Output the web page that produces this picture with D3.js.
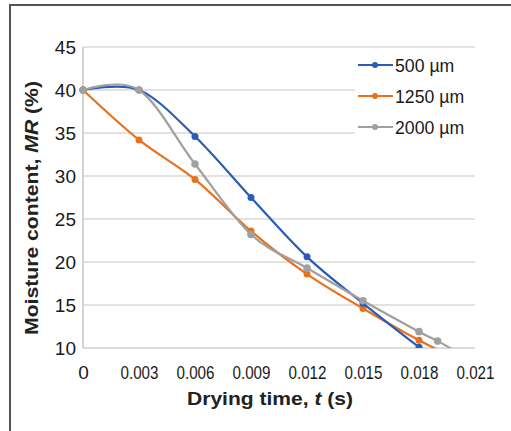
<!DOCTYPE html>
<html><head><meta charset="utf-8">
<script src="https://cdn.jsdelivr.net/npm/d3@7"></script>
<style>
html,body{margin:0;padding:0;background:#fff;}
svg{display:block;}
</style></head>
<body>
<svg id="c" width="511" height="431"></svg>
<script>
const xTicks = [0, 0.003, 0.006, 0.009, 0.012, 0.015, 0.018, 0.021];
const xTickLabels = ["0", "0.003", "0.006", "0.009", "0.012", "0.015", "0.018", "0.021"];
const yTicks = [10, 15, 20, 25, 30, 35, 40, 45];
const seriesNames = ["500 µm", "1250 µm", "2000 µm"];
const t500 = [0, 0.003, 0.006, 0.009, 0.012, 0.015, 0.018];
const mr500 = [40, 40, 34.6, 27.5, 20.6, 15.2, 10.1];
const t1250 = [0, 0.003, 0.006, 0.009, 0.012, 0.015, 0.018, 0.020];
const mr1250 = [40, 34.2, 29.6, 23.6, 18.6, 14.6, 10.9, 8.8];
const t2000 = [0, 0.003, 0.006, 0.009, 0.012, 0.015, 0.018, 0.019, 0.020];
const mr2000 = [40, 40, 31.4, 23.2, 19.3, 15.5, 11.9, 10.8, 9.6];
const colors = ["#2b5cb5", "#e8711c", "#a0a0a0"];

const svg = d3.select("#c");
const font = "'Liberation Sans',Arial,sans-serif";

function squeeze(sel, k) {
  sel.each(function() {
    const w = this.getComputedTextLength();
    d3.select(this).attr("textLength", w * k).attr("lengthAdjust", "spacingAndGlyphs");
  });
}

// outer frame
svg.append("path").attr("d", "M10,431 V5 H511").attr("fill", "none")
  .attr("stroke", "#555").attr("stroke-width", 2);

const x = d3.scaleLinear().domain([0, 0.021]).range([83, 475]);
const y = d3.scaleLinear().domain([10, 45]).range([348, 47]);

// gridlines
svg.append("g").selectAll("line").data(yTicks.filter(v => v > 10)).join("line")
  .attr("x1", x(0)).attr("x2", x(0.021)).attr("y1", d => y(d)).attr("y2", d => y(d))
  .attr("stroke", "#d9d9d9").attr("stroke-width", 1.6);

// axes lines
svg.append("line").attr("x1", x(0)).attr("x2", x(0)).attr("y1", y(45)).attr("y2", y(10))
  .attr("stroke", "#c8c8c8").attr("stroke-width", 1.6);
svg.append("line").attr("x1", x(0)).attr("x2", x(0.021)).attr("y1", y(10)).attr("y2", y(10))
  .attr("stroke", "#d0d0d0").attr("stroke-width", 1.6);

// y tick labels
const yAxis = d3.axisLeft(y).tickValues(yTicks).tickSize(0).tickPadding(7);
const gy = svg.append("g").attr("transform", `translate(${x(0)},0)`).call(yAxis);
gy.select(".domain").remove();
gy.selectAll("text").attr("font-family", font).attr("font-size", 19).attr("fill", "#1a1a1a")
  .attr("dy", "0.36em");

// x tick labels
const xAxis = d3.axisBottom(x).tickValues(xTicks).tickFormat((d, i) => xTickLabels[i]).tickSize(0).tickPadding(18);
const gx = svg.append("g").attr("transform", `translate(0,${y(10)})`).call(xAxis);
gx.select(".domain").remove();
gx.selectAll("text").attr("font-family", font).attr("font-size", 19).attr("fill", "#1a1a1a")
  .attr("dy", "0.71em")
  .each(function(d, i) {
    if (xTickLabels[i].length > 1) d3.select(this).attr("textLength", 38).attr("lengthAdjust", "spacingAndGlyphs");
  });

// axis titles
svg.append("text").attr("x", 270).attr("y", 405).attr("text-anchor", "middle")
  .attr("font-family", font).attr("font-weight", "bold")
  .attr("font-size", 19).attr("fill", "#222")
  .attr("textLength", 166).attr("lengthAdjust", "spacingAndGlyphs")
  .html("Drying time, <tspan font-style='italic'>t</tspan> (s)");
svg.append("text").attr("transform", "translate(38,208) rotate(-90)").attr("text-anchor", "middle")
  .attr("font-family", font).attr("font-weight", "bold")
  .attr("font-size", 19).attr("fill", "#222")
  .attr("textLength", 254).attr("lengthAdjust", "spacingAndGlyphs")
  .html("Moisture content, <tspan font-style='italic'>MR</tspan> (%)");

// clip
svg.append("clipPath").attr("id", "clip").append("rect")
  .attr("x", x(0) - 6).attr("y", y(45)).attr("width", x(0.021) - x(0) + 12).attr("height", y(10) - y(45));

const series = [
  {t: t500, v: mr500}, {t: t1250, v: mr1250}, {t: t2000, v: mr2000}
];
const line = d3.line().x(d => x(d[0])).y(d => y(d[1])).curve(d3.curveCardinal.tension(0));
const plot = svg.append("g").attr("clip-path", "url(#clip)");
const order = [1, 0, 2];
order.forEach(i => {
  const s = series[i];
  const pts = s.t.map((t, j) => [t, s.v[j]]);
  plot.append("path").datum(pts).attr("d", line).attr("fill", "none")
    .attr("stroke", colors[i]).attr("stroke-width", 2.2);
  plot.append("g").selectAll("circle").data(pts).join("circle")
    .attr("cx", d => x(d[0])).attr("cy", d => y(d[1]))
    .attr("r", i === 2 ? 3.8 : 3.5).attr("fill", colors[i]);
});

// legend
const lg = svg.append("g");
lg.append("rect").attr("x", 355).attr("y", 50).attr("width", 122).attr("height", 92).attr("fill", "#fff");
seriesNames.forEach((n, i) => {
  const ly = 65 + i * 31;
  lg.append("line").attr("x1", 358).attr("x2", 393).attr("y1", ly).attr("y2", ly)
    .attr("stroke", colors[i]).attr("stroke-width", 2.2);
  lg.append("circle").attr("cx", 375).attr("cy", ly).attr("r", 3).attr("fill", colors[i]);
  const tx = lg.append("text").attr("x", 395).attr("y", ly).attr("dy", "0.36em")
    .attr("font-family", font).attr("font-size", 19).attr("fill", "#1a1a1a").text(n);
  squeeze(tx, 0.93);
});
</script>
</body></html>
